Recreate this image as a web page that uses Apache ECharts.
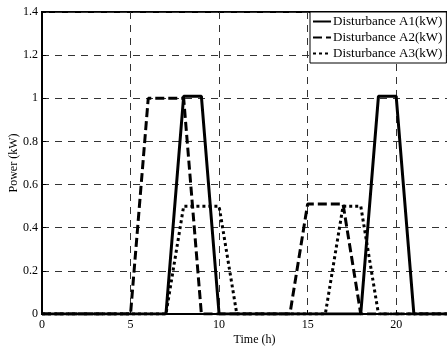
<!DOCTYPE html>
<html>
<head>
<meta charset="utf-8">
<script src="https://cdn.jsdelivr.net/npm/echarts@6/dist/echarts.min.js"></script>
<style>
html,body{margin:0;padding:0;background:#fff;}
#main{width:447px;height:349px;}
</style>
</head>
<body>
<div id="main"></div>
<script>
// time (h) / power (kW) breakpoints
var a1Time=[0,7,8,9,10,18,19,20,21,24];
var a1Power=[0,0,1.01,1.01,0,0,1.01,1.01,0,0];
var a2Time=[0,5,6,8,9,14,15,17,18,24];
var a2Power=[0,0,1,1,0,0,0.51,0.51,0,0];
var a3Time=[0,7,8,10,11,16,17,18,19,24];
var a3Power=[0,0,0.5,0.5,0,0,0.5,0.5,0,0];
var seriesNames=['Disturbance A1(kW)','Disturbance A2(kW)','Disturbance A3(kW)'];

function pairs(t,p){
	var out=[];
	for(var i=0;i<t.length;i++){ out.push([t[i],p[i]]); }
	return out;
}

var font='Liberation Serif';
var gridLine={show:true,lineStyle:{color:'#333',width:1,type:[7,6]}};

var myChart=echarts.init(document.getElementById('main'));
myChart.setOption({
	animation:false,
	color:['#000','#000','#000'],
	textStyle:{fontFamily:font},
	grid:{left:42,top:12,bottom:35,right:-20,outerBoundsMode:'none',containLabel:false,
		show:true,borderColor:'#000',borderWidth:2,backgroundColor:'transparent'},
	legend:{
		left:310,top:12,orient:'vertical',
		backgroundColor:'#fff',borderColor:'#000',borderWidth:1,borderRadius:0,
		padding:[3,4,3,2],itemGap:3,itemWidth:18,itemHeight:12,
		itemStyle:{opacity:0},
		textStyle:{fontFamily:font,fontSize:13,color:'#000',padding:[0,0,0,-3]},
		data:seriesNames
	},
	xAxis:{
		type:'value',min:0,max:24,interval:5,
		name:'Time (h)',nameLocation:'middle',nameGap:20,nameMoveOverlap:false,
		nameTextStyle:{fontFamily:font,fontSize:12,color:'#000'},
		axisLine:{show:true,lineStyle:{color:'#000',width:2}},
		axisTick:{show:true,inside:true,length:4,lineStyle:{color:'#000'}},
		axisLabel:{fontFamily:font,fontSize:12,color:'#000',margin:5,
			formatter:function(v){return v%5===0?String(v):'';}},
		splitLine:gridLine
	},
	yAxis:{
		type:'value',min:0,max:1.4,interval:0.2,
		name:'Power (kW)',nameLocation:'middle',nameGap:22,nameMoveOverlap:false,
		nameTextStyle:{fontFamily:font,fontSize:12,color:'#000'},
		axisLine:{show:true,lineStyle:{color:'#000',width:2}},
		axisTick:{show:true,inside:true,length:4,lineStyle:{color:'#000'}},
		axisLabel:{fontFamily:font,fontSize:12,color:'#000',margin:4,
			formatter:function(v){return String(Math.round(v*10)/10);}},
		splitLine:gridLine
	},
	series:[
		{name:seriesNames[0],type:'line',symbol:'none',data:pairs(a1Time,a1Power),
			itemStyle:{color:'#000'},lineStyle:{color:'#000',width:3,type:'solid'},z:4},
		{name:seriesNames[1],type:'line',symbol:'none',data:pairs(a2Time,a2Power),
			itemStyle:{color:'#000'},lineStyle:{color:'#000',width:3,type:[9,4]},z:3},
		{name:seriesNames[2],type:'line',symbol:'none',data:pairs(a3Time,a3Power),
			itemStyle:{color:'#000'},lineStyle:{color:'#000',width:3,type:[3,3]},z:2}
	]
});
</script>
</body>
</html>
